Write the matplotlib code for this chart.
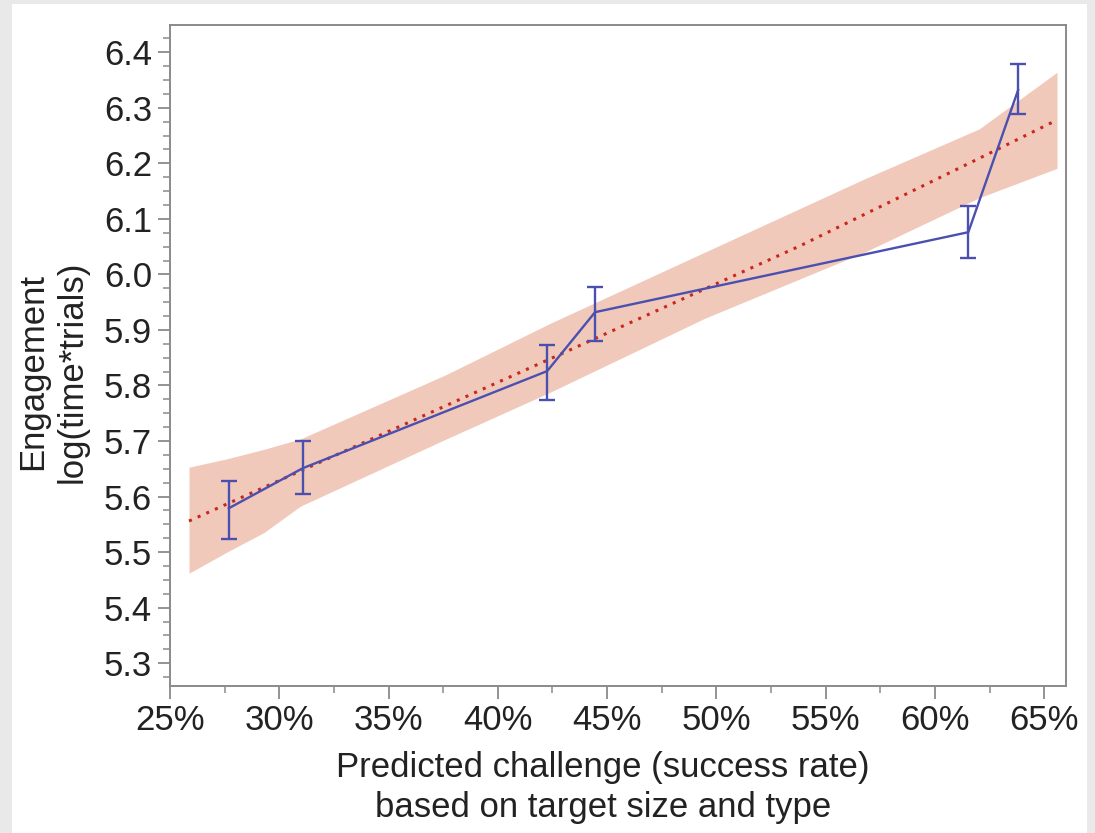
import numpy as np
import matplotlib.pyplot as plt
from matplotlib.ticker import MultipleLocator, FuncFormatter
from matplotlib.patches import Rectangle

plt.rcParams['font.family'] = ['Liberation Sans', 'DejaVu Sans']

# group means with error bars (success rate, log(time*trials))
rate = [0.2769, 0.3107, 0.4226, 0.4445, 0.6153, 0.6381]
engage = [5.579, 5.651, 5.826, 5.932, 6.076, 6.332]
err_lo = [5.523, 5.604, 5.774, 5.880, 6.029, 6.288]
err_hi = [5.628, 5.700, 5.873, 5.977, 6.123, 6.378]

# fitted trend
fit_x = [0.2587, 0.4285, 0.5381, 0.6203, 0.6559]
fit_y = [5.556, 5.856, 6.051, 6.209, 6.278]

# confidence band edges
band_x = [0.2587, 0.2760, 0.2929, 0.3098, 0.3760, 0.4240, 0.4947, 0.5678, 0.6203, 0.6559]
band_lo = [5.462, 5.500, 5.535, 5.583, 5.703, 5.788, 5.921, 6.040, 6.138, 6.191]
band_hi = [5.653, 5.668, 5.685, 5.704, 5.819, 5.912, 6.040, 6.172, 6.262, 6.364]

fs = 25

fig = plt.figure(figsize=(10.95, 8.33), dpi=100, facecolor='#e9e9e9')
bg = Rectangle((12 / 1095, 0), 1075 / 1095, 1 - 4 / 833,
               transform=fig.transFigure, facecolor='white',
               edgecolor='none', zorder=-10)
fig.add_artist(bg)

ax = fig.add_axes([170 / 1095, 1 - 686 / 833, 896 / 1095, 661 / 833])

ax.fill_between(band_x, band_lo, band_hi, color='#f1c9ba', lw=0, zorder=1)
ax.plot(fit_x, fit_y, color='#c8281c', lw=2.2, ls=(0, (1, 2.1)), zorder=2)

yerr = [np.array(engage) - np.array(err_lo), np.array(err_hi) - np.array(engage)]
ax.errorbar(rate, engage, yerr=yerr, color='#4b50b0', lw=1.7, elinewidth=1.7,
            capsize=5.5, capthick=1.7, zorder=3)

ax.set_xlim(0.25, 0.66)
ax.set_ylim(5.259, 6.449)

ax.xaxis.set_major_locator(MultipleLocator(0.05))
ax.xaxis.set_minor_locator(MultipleLocator(0.025))
ax.xaxis.set_major_formatter(FuncFormatter(lambda v, p: f"{v * 100:.0f}%"))
ax.yaxis.set_major_locator(MultipleLocator(0.1))
ax.yaxis.set_minor_locator(MultipleLocator(0.025))
ax.yaxis.set_major_formatter(FuncFormatter(lambda v, p: f"{v:.1f}"))

for s in ax.spines.values():
    s.set_color('#8a8a8a')
    s.set_linewidth(1.4)
ax.tick_params(which='major', length=9, width=1.3, color='#8a8a8a',
               labelsize=fs, labelcolor='#222222', pad=4)
ax.tick_params(which='minor', length=5, width=1.1, color='#8a8a8a')

fig.text(603 / 1095, 1 - 768 / 833, "Predicted challenge (success rate)",
         ha='center', va='center', fontsize=fs, color='#222222')
fig.text(603 / 1095, 1 - 808 / 833, "based on target size and type",
         ha='center', va='center', fontsize=fs, color='#222222')
fig.text(52 / 1095, 1 - 372 / 833, "Engagement\nlog(time*trials)",
         ha='center', va='center', rotation=90, fontsize=fs, color='#222222',
         multialignment='center', linespacing=1.25)

fig.savefig('out.png', dpi=100, facecolor=fig.get_facecolor())
